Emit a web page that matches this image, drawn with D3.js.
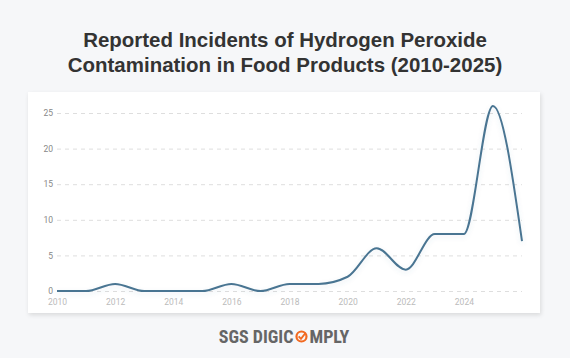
<!DOCTYPE html>
<html><head><meta charset="utf-8">
<script src="https://cdn.jsdelivr.net/npm/d3@7"></script>
<style>
html,body{margin:0;padding:0;background:#f6f7f9;}
svg{display:block;}
</style></head>
<body>
<svg id="c" width="570" height="358"></svg>
<script>
const years = [2010,2011,2012,2013,2014,2015,2016,2017,2018,2019,2020,2021,2022,2023,2024,2025,2026];
const incidents = [0,0,1,0,0,0,1,0,1,1,2,6,3,8,8,26,7];
const yTicks = [0,5,10,15,20,25];
const xTicks = [2010,2012,2014,2016,2018,2020,2022,2024];
const titleLines = ["Reported Incidents of Hydrogen Peroxide","Contamination in Food Products (2010-2025)"];

const svg = d3.select("#c");
const defs = svg.append("defs");
const f = defs.append("filter").attr("id","cardShadow").attr("x","-5%").attr("y","-5%").attr("width","110%").attr("height","115%");
f.append("feDropShadow").attr("dx",1).attr("dy",2).attr("stdDeviation",2).attr("flood-color","#000").attr("flood-opacity",0.12);
const f2 = defs.append("filter").attr("id","lineShadow").attr("x","-10%").attr("y","-10%").attr("width","120%").attr("height","130%");
f2.append("feDropShadow").attr("dx",0).attr("dy",2).attr("stdDeviation",2.5).attr("flood-color","#4a7592").attr("flood-opacity",0.12);

svg.append("rect").attr("x",0).attr("y",0).attr("width",570).attr("height",358).attr("fill","#f6f7f9");

const t = svg.append("text").attr("text-anchor","middle").attr("font-family","'Liberation Sans', Arial, sans-serif")
  .attr("font-weight","bold").attr("font-size",20).attr("fill","#333");
titleLines.forEach((l,i)=>t.append("tspan").attr("x",285).attr("y",47+i*25).text(l));
// fit first line width to ~404px
const w0 = t.select("tspan").node().getComputedTextLength();
t.attr("font-size", 20*404/w0);

svg.append("rect").attr("x",28).attr("y",92).attr("width",512).attr("height",221).attr("fill","#fff").attr("filter","url(#cardShadow)");

const x = d3.scaleLinear().domain([2010,2026]).range([57,522]);
const y = d3.scaleLinear().domain([0,25]).range([291,113]);

const gy = svg.append("g").attr("transform","translate(57,0)")
  .call(d3.axisLeft(y).tickValues(yTicks).tickSize(-465).tickPadding(4));
gy.select(".domain").remove();
gy.selectAll(".tick line").attr("stroke","#dedede").attr("stroke-dasharray","4,4").attr("stroke-width",1);
gy.selectAll(".tick text").attr("fill","#888").attr("font-size",8.5).attr("font-family","Roboto, sans-serif");

const gx = svg.append("g").attr("transform","translate(0,297)")
  .call(d3.axisBottom(x).tickValues(xTicks).tickFormat(d3.format("d")).tickSize(0).tickPadding(2));
gx.select(".domain").remove();
gx.selectAll(".tick text").attr("fill","#bbb").attr("font-size",8.5).attr("font-family","Roboto, sans-serif");

const line = d3.line().x((d,i)=>x(years[i])).y(d=>y(d)).curve(d3.curveMonotoneX);
svg.append("path").datum(incidents).attr("d",line).attr("fill","none").attr("stroke","#4a7592").attr("stroke-width",2)
  .attr("filter","url(#lineShadow)");

// logo
const fam = "'Roboto Condensed','Liberation Sans Narrow','DejaVu Sans Condensed',sans-serif";
const fs = 18;
const lg = svg.append("g");
const a = lg.append("text").attr("y",343).attr("font-family",fam).attr("font-weight","bold").attr("font-size",fs).attr("fill","#666").text("SGS DIGIC");
const b = lg.append("text").attr("y",343).attr("font-family",fam).attr("font-weight","bold").attr("font-size",fs).attr("fill","#666").text("MPLY");
const wa = a.node().getComputedTextLength(), wb = b.node().getComputedTextLength();
const r = 6;
const total = wa + 2*r + 4 + wb;
const x0 = 284 - total/2;
a.attr("x",x0);
const cx = x0 + wa + 2 + r;
b.attr("x",cx + r + 2);
lg.append("circle").attr("cx",cx).attr("cy",336.5).attr("r",r-1).attr("fill","none").attr("stroke","#f26a21").attr("stroke-width",2.2);
lg.append("path").attr("d",`M${cx-2.8},${336.3} L${cx-0.5},${338.8} L${cx+4},${333}`).attr("fill","none").attr("stroke","#f26a21").attr("stroke-width",1.9);
</script>
</body></html>
